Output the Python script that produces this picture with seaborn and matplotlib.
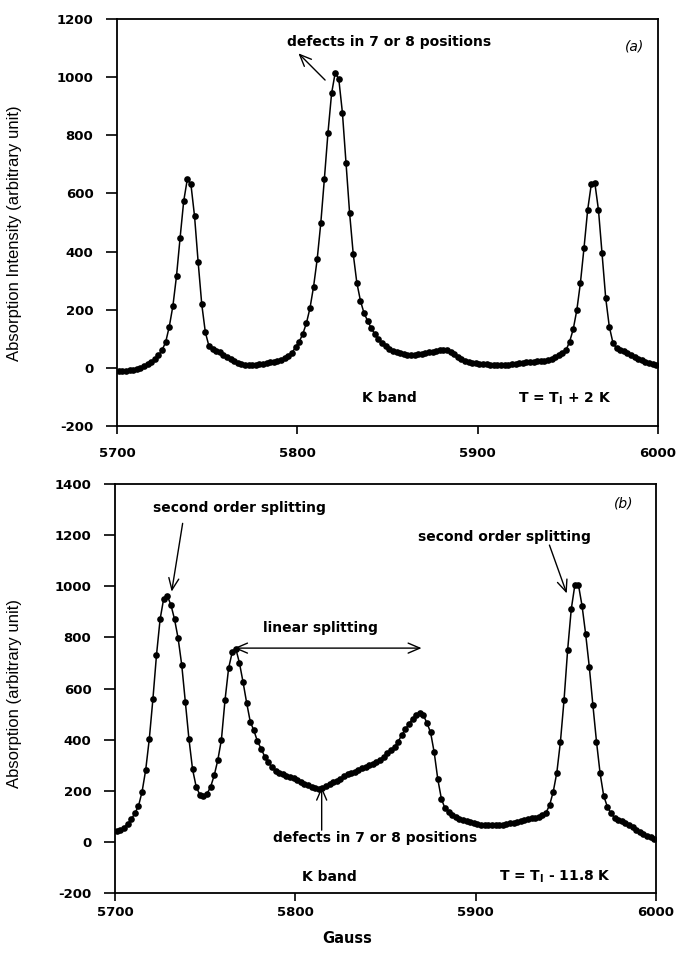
import numpy as np
import matplotlib
matplotlib.use("Agg")
import matplotlib.pyplot as plt
import seaborn as sns

# Magnetic field sweep (Gauss), one reading every 2 G
field_a = np.arange(5701, 6000, 2)
field_b = np.arange(5701, 6000, 2)

# (a) T = T_I + 2 K
absorb_a = [
    -12, -11, -10, -8, -6, -3, 1, 6, 12, 20,
    30, 43, 61, 89, 142, 213, 316, 448, 574, 649,
    631, 522, 364, 219, 122, 75, 64, 58, 53, 46,
    38, 30, 23, 17, 13, 11, 10, 10, 11, 13,
    15, 17, 19, 21, 24, 28, 33, 40, 52, 71,
    90, 116, 153, 205, 279, 373, 497, 650, 809, 944,
    1015, 993, 878, 706, 532, 392, 293, 231, 188, 162,
    136, 116, 100, 86, 75, 66, 58, 53, 50, 48,
    46, 45, 46, 47, 49, 51, 53, 55, 58, 61,
    63, 62, 56, 48, 39, 31, 25, 21, 18, 16,
    14, 13, 12, 11, 10, 9, 9, 9, 10, 12,
    14, 16, 18, 19, 20, 21, 22, 23, 25, 28,
    32, 38, 45, 52, 61, 90, 133, 199, 293, 414,
    543, 631, 635, 543, 394, 241, 142, 87, 67, 62,
    57, 52, 46, 39, 32, 26, 21, 16, 12, 9,
]

# (b) T = T_I - 11.8 K
absorb_b = [
    42, 48, 56, 70, 88, 112, 140, 196, 281, 402,
    558, 731, 871, 952, 962, 927, 871, 796, 692, 548,
    402, 284, 216, 185, 180, 188, 215, 260, 320, 400,
    555, 680, 742, 755, 700, 625, 544, 470, 436, 393,
    365, 334, 312, 292, 278, 270, 264, 258, 255, 248,
    242, 236, 228, 222, 215, 211, 208, 212, 220, 228,
    234, 238, 246, 256, 265, 270, 274, 280, 288, 294,
    300, 306, 312, 322, 334, 346, 358, 372, 392, 418,
    440, 462, 482, 495, 503, 495, 465, 428, 350, 245,
    168, 131, 117, 106, 98, 90, 85, 80, 76, 72,
    70, 68, 67, 66, 66, 66, 67, 68, 70, 72,
    75, 78, 82, 85, 88, 92, 94, 97, 105, 114,
    144, 196, 271, 392, 555, 751, 910, 1005, 1005, 923,
    812, 685, 535, 392, 268, 180, 138, 112, 95, 86,
    80, 72, 66, 57, 47, 38, 30, 24, 18, 13,
]

x_ticks = [5700, 5800, 5900, 6000]
y_ticks_a = [-200, 0, 200, 400, 600, 800, 1000, 1200]
y_ticks_b = [-200, 0, 200, 400, 600, 800, 1000, 1200, 1400]

sns.set_theme(style="ticks")
plt.rcParams["font.family"] = ["DejaVu Sans"]
plt.rcParams["axes.linewidth"] = 1.3
plt.rcParams["axes.edgecolor"] = "black"

fig = plt.figure(figsize=(6.81, 9.55), dpi=100)
ax_a = fig.add_axes([0.1718, 0.5539, 0.7944, 0.4262])
ax_b = fig.add_axes([0.1689, 0.0649, 0.7944, 0.4283])

line_kw = dict(color="black", linewidth=1.1, marker="o", markersize=4.8,
               markeredgewidth=0, markerfacecolor="black")
sns.lineplot(x=field_a, y=absorb_a, ax=ax_a, **line_kw)
sns.lineplot(x=field_b, y=absorb_b, ax=ax_b, **line_kw)

tick_font = dict(fontsize=9.5, fontweight="bold")
for ax, yt, xpad in ((ax_a, y_ticks_a, 9), (ax_b, y_ticks_b, 3)):
    ax.set_xlim(5700, 6000)
    ax.set_ylim(yt[0], yt[-1])
    ax.set_xticks(x_ticks)
    ax.set_xticklabels([str(t) for t in x_ticks], **tick_font)
    ax.set_yticks(yt)
    ax.set_yticklabels([str(t) for t in yt], **tick_font)
    ax.tick_params(axis="y", direction="out", length=8, width=1.2, pad=9, colors="black")
    ax.tick_params(axis="x", direction="out", length=6, width=1.2, pad=xpad, colors="black")
    for s in ax.spines.values():
        s.set_visible(True)
        s.set_color("black")
    ax.set_facecolor("white")

ax_a.set_xlabel("")
ax_a.set_ylabel("Absorption Intensity (arbitrary unit)", family="Liberation Sans",
                fontsize=12, color="black")
ax_a.yaxis.set_label_coords(-0.176, 0.475)

ax_b.set_ylabel("Absorption (arbitrary unit)", family="Liberation Sans",
                fontsize=12, color="black")
ax_b.yaxis.set_label_coords(-0.172, 0.487)
ax_b.set_xlabel("Gauss", fontsize=10.5, fontweight="bold", color="black", va="top")
ax_b.xaxis.set_label_coords(0.429, -0.093)

note = dict(fontsize=10, fontweight="bold", color="black", ha="center", va="center")
arrow = dict(arrowstyle="->,head_length=0.7,head_width=0.3", color="black", lw=1.0,
             shrinkA=0, shrinkB=0)
arrow2 = dict(arrowstyle="<->,head_length=0.7,head_width=0.3", color="black", lw=1.0,
              shrinkA=0, shrinkB=0)

# panel (a) annotations
ax_a.text(5851, 1122, "defects in 7 or 8 positions", **note)
ax_a.annotate("", xy=(5800.6, 1082), xytext=(5815.4, 990), arrowprops=arrow)
ax_a.text(5987, 1105, "(a)", fontsize=10, style="italic", color="black",
          ha="center", va="center")
ax_a.text(5851, -105, "K band", **note)
ax_a.text(5948.5, -105, r"T = T$_\mathregular{I}$ + 2 K", **note)

# panel (b) annotations
ax_b.text(5769, 1306, "second order splitting", **note)
ax_b.annotate("", xy=(5731.4, 979), xytext=(5737.5, 1246), arrowprops=arrow)
ax_b.text(5916, 1194, "second order splitting", **note)
ax_b.annotate("", xy=(5950.5, 972), xytext=(5940.9, 1161), arrowprops=arrow)
ax_b.text(5814, 837, "linear splitting", **note)
ax_b.annotate("", xy=(5766, 758), xytext=(5870, 758), arrowprops=arrow2)
ax_b.text(5844, 14, "defects in 7 or 8 positions", **note)
ax_b.annotate("", xy=(5814.6, 216), xytext=(5814.6, 46), arrowprops=arrow)
ax_b.text(5982, 1325, "(b)", fontsize=10, style="italic", color="black",
          ha="center", va="center")
ax_b.text(5819, -136, "K band", **note)
ax_b.text(5944, -136, r"T = T$_\mathregular{I}$ - 11.8 K", **note)

fig.savefig("out.png", dpi=100, facecolor="white")
